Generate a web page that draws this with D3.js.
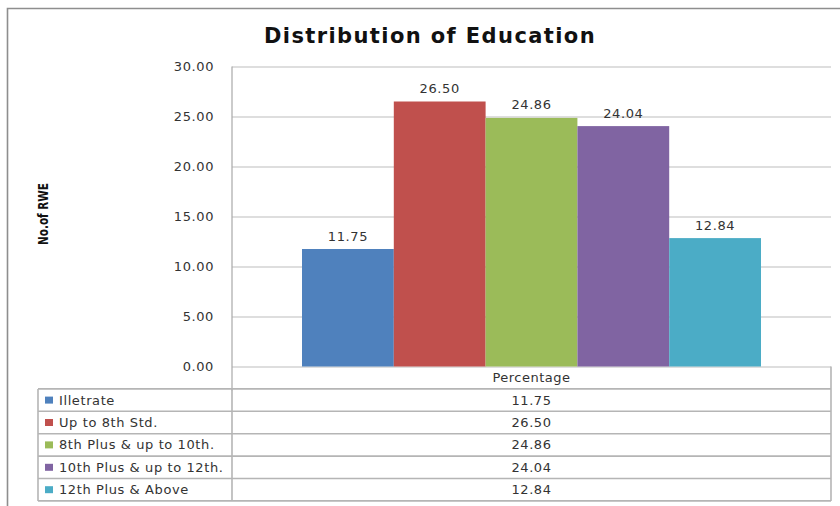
<!DOCTYPE html>
<html>
<head>
<meta charset="utf-8">
<script src="https://cdn.jsdelivr.net/npm/d3@7"></script>
<style>
  html, body { margin: 0; padding: 0; background: #fff; }
  svg { display: block; }
</style>
</head>
<body>
<svg id="chart" width="840" height="506"></svg>
<script>
// Education levels and their share (%)
const categories = ["Illetrate", "Up to 8th Std.", "8th Plus & up to 10th.", "10th Plus & up to 12th.", "12th Plus & Above"];
const values = [11.75, 26.50, 24.86, 24.04, 12.84];
const colors = ["#4F81BD", "#C0504D", "#9BBB59", "#8064A2", "#4BACC6"];
const groupLabel = "Percentage";
const yTicks = [0, 5, 10, 15, 20, 25, 30];

const svg = d3.select("#chart");
const W = 840, H = 506;

// layout
const plot = { left: 232, right: 831, top: 66.5, bottom: 366.5 };
const rowH = 22.4;
const tableLeft = 38;

const textFont = "'DejaVu Sans', Verdana, sans-serif";

// outer frame (runs off the right and bottom edges)
svg.append("path")
  .attr("d", `M7.5,${H + 5} V8.5 H${W + 5}`)
  .attr("fill", "none")
  .attr("stroke", "#8e8e8e")
  .attr("stroke-width", 1.6);

// title
svg.append("text")
  .attr("x", 430).attr("y", 43)
  .attr("text-anchor", "middle")
  .attr("font-family", textFont)
  .attr("font-weight", "bold")
  .attr("font-size", 21)
  .attr("letter-spacing", 1.4)
  .attr("fill", "#111")
  .text("Distribution of Education");

// scales
const y = d3.scaleLinear().domain([0, 30]).range([plot.bottom, plot.top]);
const xGroup = d3.scaleBand().domain([groupLabel])
  .range([plot.left, plot.right]).paddingInner(0).paddingOuter(0.1525);
const xBar = d3.scaleBand().domain(categories)
  .range([xGroup(groupLabel), xGroup(groupLabel) + xGroup.bandwidth()]).padding(0);

// gridlines + tick labels via axis
const yAxis = d3.axisLeft(y).tickValues(yTicks).tickSize(-(plot.right - plot.left)).tickPadding(18)
  .tickFormat(d3.format(".2f"));
const ya = svg.append("g").attr("transform", `translate(${plot.left},0)`).call(yAxis);
ya.select(".domain").remove();
ya.selectAll(".tick line").attr("stroke", "#bdbdbd").attr("stroke-width", 1.2);
ya.selectAll(".tick text")
  .attr("font-family", textFont).attr("font-size", 13)
  .attr("letter-spacing", 0.6)
  .attr("fill", "#333");

// vertical axis line (runs down through the table header)
svg.append("line")
  .attr("x1", plot.left).attr("x2", plot.left)
  .attr("y1", plot.top).attr("y2", plot.bottom + rowH + 1.5)
  .attr("stroke", "#a8a8a8").attr("stroke-width", 1.2);

// y axis title (narrow bold)
svg.append("text")
  .attr("transform", "translate(48,214) rotate(-90)")
  .attr("text-anchor", "middle")
  .attr("font-family", "'DejaVu Sans Condensed', 'DejaVu Sans', sans-serif")
  .attr("font-stretch", "condensed")
  .attr("font-weight", "bold")
  .attr("font-size", 14)
  .attr("textLength", 62)
  .attr("lengthAdjust", "spacingAndGlyphs")
  .attr("fill", "#111")
  .text("No.of RWE");

// bars
svg.append("g").selectAll("rect")
  .data(categories)
  .join("rect")
  .attr("x", d => xBar(d))
  .attr("width", xBar.bandwidth())
  .attr("y", (d, i) => y(values[i]))
  .attr("height", (d, i) => y(0) - y(values[i]))
  .attr("fill", (d, i) => colors[i]);

// value labels above bars
svg.append("g").selectAll("text")
  .data(categories)
  .join("text")
  .attr("x", d => xBar(d) + xBar.bandwidth() / 2)
  .attr("y", (d, i) => y(values[i]) - 8.5)
  .attr("text-anchor", "middle")
  .attr("font-family", textFont).attr("font-size", 13)
  .attr("letter-spacing", 0.6)
  .attr("fill", "#333")
  .text((d, i) => d3.format(".2f")(values[i]));

// data table
const table = svg.append("g");
const lineColor = "#b5b5b5";
const headerTop = plot.bottom;
const rowTop = i => headerTop + rowH * (i + 1);

// header row (value column only)
table.append("text")
  .attr("x", (plot.left + plot.right) / 2)
  .attr("y", headerTop + rowH / 2 + 4.5)
  .attr("text-anchor", "middle")
  .attr("font-family", textFont).attr("font-size", 13)
  .attr("letter-spacing", 0.5)
  .attr("fill", "#333")
  .text(groupLabel);

// horizontal row lines
table.selectAll("line.row")
  .data(d3.range(categories.length + 1))
  .join("line")
  .attr("class", "row")
  .attr("x1", tableLeft).attr("x2", plot.right)
  .attr("y1", i => rowTop(i)).attr("y2", i => rowTop(i))
  .attr("stroke", lineColor).attr("stroke-width", 1.6);

// vertical table edges
table.append("line")
  .attr("x1", tableLeft).attr("x2", tableLeft)
  .attr("y1", rowTop(0)).attr("y2", rowTop(categories.length))
  .attr("stroke", lineColor).attr("stroke-width", 1.6);
table.append("line")
  .attr("x1", plot.left).attr("x2", plot.left)
  .attr("y1", rowTop(0)).attr("y2", rowTop(categories.length))
  .attr("stroke", lineColor).attr("stroke-width", 1.6);
table.append("line")
  .attr("x1", plot.right).attr("x2", plot.right)
  .attr("y1", headerTop).attr("y2", rowTop(categories.length))
  .attr("stroke", lineColor).attr("stroke-width", 1.6);

const rows = table.selectAll("g.datarow")
  .data(categories)
  .join("g")
  .attr("class", "datarow")
  .attr("transform", (d, i) => `translate(0,${rowTop(i)})`);

rows.append("rect")
  .attr("x", tableLeft + 7).attr("y", rowH / 2 - 3.5)
  .attr("width", 8).attr("height", 7)
  .attr("fill", (d, i) => colors[i]);

rows.append("text")
  .attr("x", tableLeft + 21).attr("y", rowH / 2 + 4.5)
  .attr("font-family", textFont).attr("font-size", 13)
  .attr("letter-spacing", 0.6)
  .attr("fill", "#333")
  .text(d => d);

rows.append("text")
  .attr("x", (plot.left + plot.right) / 2).attr("y", rowH / 2 + 4.5)
  .attr("text-anchor", "middle")
  .attr("font-family", textFont).attr("font-size", 13)
  .attr("letter-spacing", 0.6)
  .attr("fill", "#333")
  .text((d, i) => d3.format(".2f")(values[i]));
</script>
</body>
</html>
